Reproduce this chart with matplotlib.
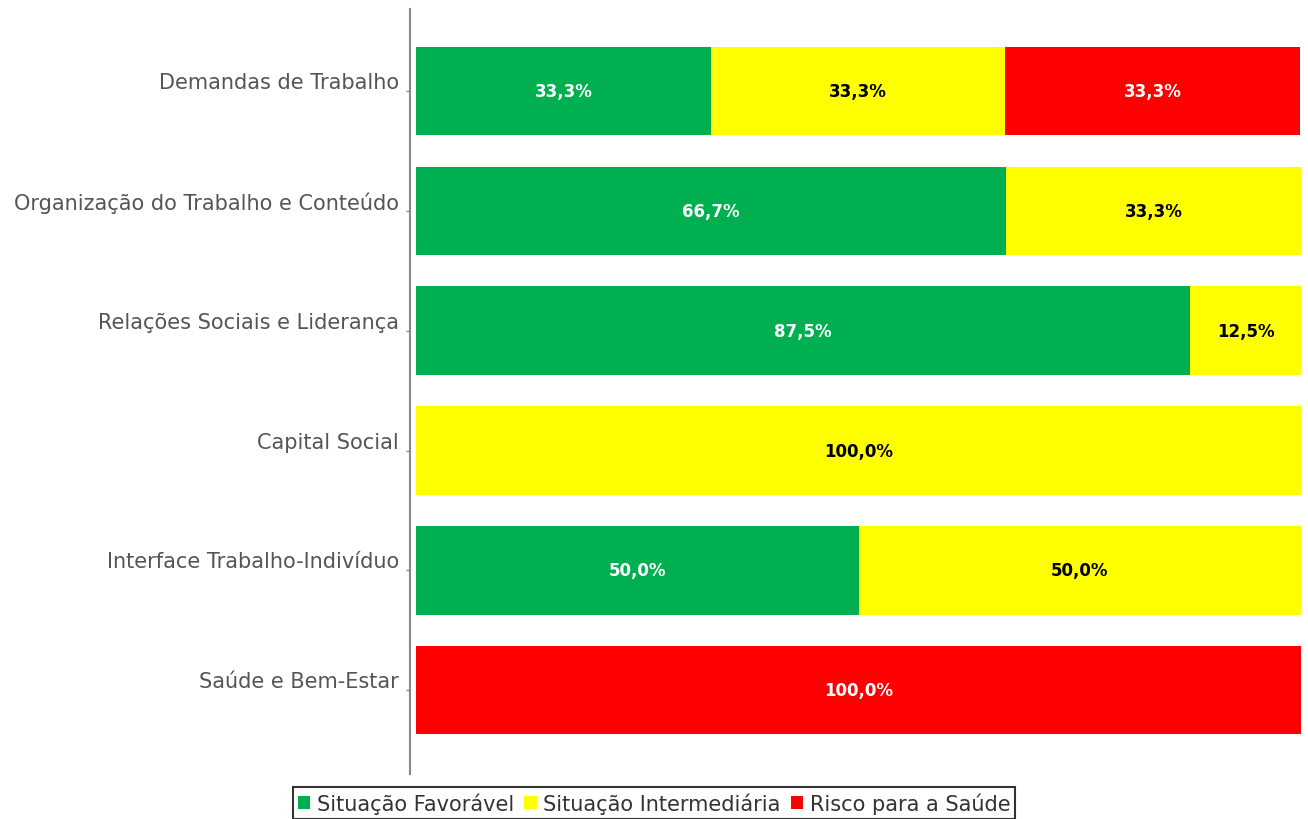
import numpy as np
import matplotlib.pyplot as plt
import matplotlib.transforms as mtransforms
from matplotlib.patches import Patch

categories = [
    "Demandas de Trabalho",
    "Organização do Trabalho e Conteúdo",
    "Relações Sociais e Liderança",
    "Capital Social",
    "Interface Trabalho-Indivíduo",
    "Saúde e Bem-Estar",
]
series_names = ["Situação Favorável", "Situação Intermediária", "Risco para a Saúde"]
favoravel = [33.3, 66.7, 87.5, 0.0, 50.0, 0.0]
intermediaria = [33.3, 33.3, 12.5, 100.0, 50.0, 0.0]
risco = [33.3, 0.0, 0.0, 0.0, 0.0, 100.0]

colors = ["#00B050", "#FFFF00", "#FF0000"]
text_colors = ["white", "black", "white"]

fig = plt.figure(figsize=(13.08, 8.2), dpi=100)
ax = fig.add_axes([410 / 1308, 1 - 775 / 820, (1301 - 410) / 1308, 765 / 820])

y = np.arange(len(categories))
left = np.zeros(len(categories))
for vals, col, tcol in zip([favoravel, intermediaria, risco], colors, text_colors):
    vals = np.array(vals)
    ax.barh(y, vals, left=left, height=0.74, color=col, edgecolor="none")
    for yi, v, l in zip(y, vals, left):
        if v > 0:
            ax.text(l + v / 2, yi, f"{v:.1f}%".replace(".", ","), ha="center",
                    va="center", color=tcol, fontsize=12, fontweight="bold")
    left = left + vals

ax.set_xlim(-0.68, 100)
ax.set_ylim(5.70, -0.685)
ax.set_yticks(y)
ax.set_yticklabels(categories, fontsize=15, color="#555555")
ax.set_xticks([])
ax.tick_params(axis="y", length=3, width=1, color="#888888", pad=5)
# os rótulos ficam um pouco acima da marca
offset = mtransforms.ScaledTranslation(0, 0.11, fig.dpi_scale_trans)
for lab in ax.get_yticklabels():
    lab.set_transform(lab.get_transform() + offset)
for s in ["top", "right", "bottom"]:
    ax.spines[s].set_visible(False)
ax.spines["left"].set_color("#888888")
ax.spines["left"].set_linewidth(1.5)

handles = [Patch(facecolor=c, edgecolor="none") for c in colors]
leg = fig.legend(handles, series_names, loc="upper center",
                 bbox_to_anchor=(0.5, 1 - 788 / 820), ncol=3, fontsize=15,
                 frameon=True, fancybox=False, edgecolor="black",
                 handlelength=0.6, handleheight=0.6, handletextpad=0.3,
                 columnspacing=0.5, borderpad=0.25, borderaxespad=0,
                 labelcolor="#333333")
leg.get_frame().set_linewidth(1.5)

fig.savefig("out.png", dpi=100)
